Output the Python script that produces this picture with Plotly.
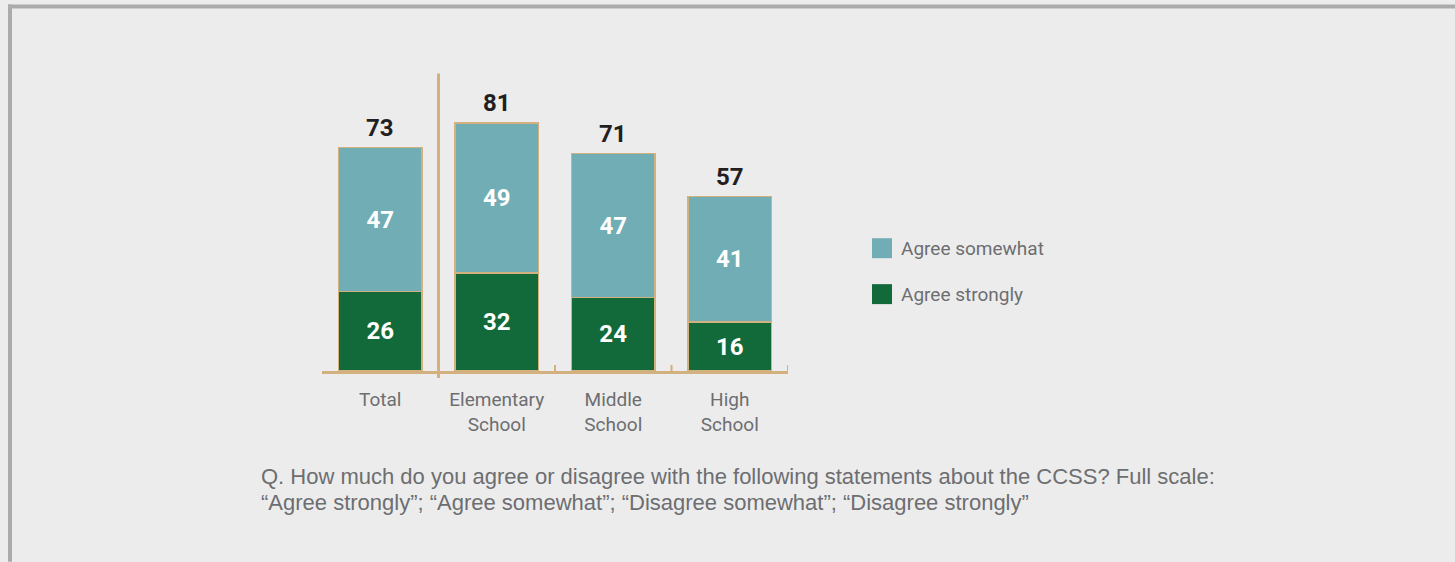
import plotly.graph_objects as go

# ---- data ----
categories = ["Total", "Elementary<br>School", "Middle<br>School", "High<br>School"]
agree_strongly = [26, 32, 24, 16]
agree_somewhat = [47, 49, 47, 41]
totals = [73, 81, 71, 57]
series_names = ["Agree somewhat", "Agree strongly"]
question_lines = [
    "Q. How much do you agree or disagree with the following statements about the CCSS? Full scale:",
    "\u201cAgree strongly\u201d; \u201cAgree somewhat\u201d; \u201cDisagree somewhat\u201d; \u201cDisagree strongly\u201d",
]

# ---- style ----
W, H = 1455, 562
ML, MR, MT, MB = 322, 1455 - 788, 64.5, 191
PW, PH = W - ML - MR, H - MT - MB
BG = "#ececec"
TAN = "#d3b17f"
TEAL = "#71adb5"
GREEN = "#126a3a"
GRAY = "#6d6e71"
DARK = "#231f20"
FONT = "Roboto, Liberation Sans, Arial, sans-serif"
QFONT = "Liberation Sans, Arial, sans-serif"


def px2x(px):
    return (px - ML) / PW


def py2y(py):
    return (H - MB - py) / PH


fig = go.Figure()
fig.add_trace(go.Bar(
    x=categories, y=agree_strongly, name=series_names[1],
    marker=dict(color=GREEN, line=dict(color=TAN, width=1.5)),
    width=0.72, text=agree_strongly, textposition="inside",
    insidetextanchor="middle", constraintext="none",
    textfont=dict(color="white", size=24, family=FONT, weight="bold"),
))
fig.add_trace(go.Bar(
    x=categories, y=agree_somewhat, name=series_names[0],
    marker=dict(color=TEAL, line=dict(color=TAN, width=1.5)),
    width=0.72, text=agree_somewhat, textposition="inside",
    insidetextanchor="middle", constraintext="none",
    textfont=dict(color="white", size=24, family=FONT, weight="bold"),
))

annotations = []
for c, t in zip(categories, totals):
    annotations.append(dict(
        x=c, y=t, xref="x", yref="y", text=str(t), showarrow=False,
        yanchor="bottom", yshift=4,
        font=dict(color=DARK, size=24, family=FONT, weight="bold"),
    ))

shapes = []
# separator between Total and the school levels
shapes.append(dict(type="line", xref="x", yref="paper", x0=0.5, x1=0.5,
                   y0=py2y(378), y1=py2y(73), line=dict(color=TAN, width=3)))
# boundary ticks
for i in range(1, len(categories)):
    shapes.append(dict(type="line", xref="x", yref="paper", x0=i + 0.5, x1=i + 0.5,
                       y0=0, y1=py2y(365), line=dict(color=TAN, width=2)))

# legend (manual, square swatches)
legend_colors = [TEAL, GREEN]
legend_centers = [248, 294]
for name, col, cy in zip(series_names, legend_colors, legend_centers):
    shapes.append(dict(type="rect", xref="paper", yref="paper",
                       x0=px2x(872), x1=px2x(892), y0=py2y(cy + 10), y1=py2y(cy - 10),
                       fillcolor=col, line=dict(width=0)))
    annotations.append(dict(x=px2x(899), y=py2y(cy), xref="paper", yref="paper",
                            text=name, showarrow=False, xanchor="left", yanchor="middle",
                            font=dict(color=GRAY, size=19, family=FONT)))

# question text
for line, cy in zip(question_lines, [477, 503]):
    annotations.append(dict(x=px2x(259), y=py2y(cy), xref="paper", yref="paper",
                            text=line, showarrow=False, xanchor="left", yanchor="middle",
                            font=dict(color=GRAY, size=22, family=QFONT)))

# frame border (top and left)
shapes.append(dict(type="line", xref="paper", yref="paper", x0=px2x(8), x1=px2x(W),
                   y0=py2y(6), y1=py2y(6), line=dict(color="#ababab", width=4)))
shapes.append(dict(type="line", xref="paper", yref="paper", x0=px2x(10), x1=px2x(10),
                   y0=py2y(4), y1=py2y(H), line=dict(color="#ababab", width=4)))

fig.update_layout(
    width=W, height=H, barmode="stack", showlegend=False,
    paper_bgcolor=BG, plot_bgcolor=BG,
    margin=dict(l=ML, r=MR, t=MT, b=MB, pad=0),
    annotations=annotations, shapes=shapes,
    xaxis=dict(type="category", range=[-0.5, 3.5], showline=True, linecolor=TAN,
               linewidth=3, ticks="", showgrid=False, zeroline=False,
               tickfont=dict(color=GRAY, size=19, family=FONT), ticklabelstandoff=9),
    yaxis=dict(range=[0, 100], visible=False, showgrid=False, zeroline=False),
    font=dict(family=FONT),
)

fig.write_html(
    "out.html",
    config={"displayModeBar": False},
    post_script="document.body.style.margin='0';document.body.style.background='#ececec';"
                "document.body.style.overflow='hidden';",
)
